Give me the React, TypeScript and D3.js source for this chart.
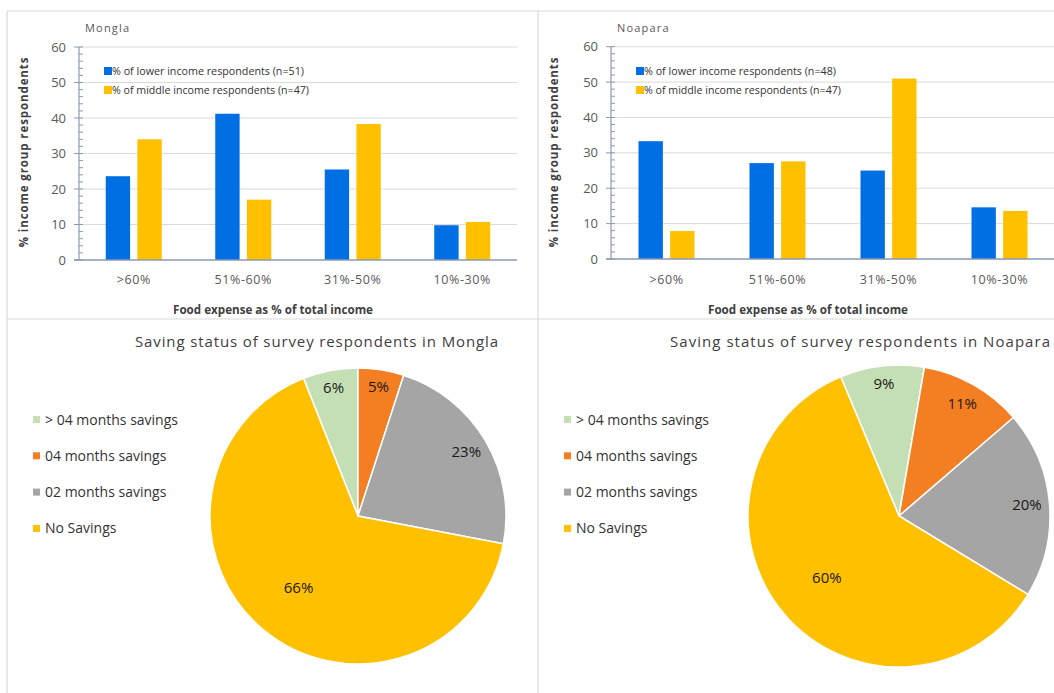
import * as d3 from 'd3';

const categories = ['>60%', '51%-60%', '31%-50%', '10%-30%'];
const monglaLower = [23.6, 41.2, 25.5, 9.8];
const monglaMiddle = [34.0, 17.0, 38.3, 10.7];
const noaparaLower = [33.3, 27.1, 25.0, 14.6];
const noaparaMiddle = [7.9, 27.6, 51.0, 13.6];
const yTicks = [0, 10, 20, 30, 40, 50, 60];
const minorTicks = d3.range(0, 61, 2);

const savingLabels = ['> 04 months savings', '04 months savings', '02 months savings', 'No Savings'];
const savingColors = ['#c5dfb5', '#f47e22', '#a5a5a5', '#ffc000'];
const monglaSavings = [6, 5, 23, 66];
const noaparaSavings = [9, 11, 20, 60];

const BLUE = '#006fe3';
const GOLD = '#ffc000';
const AXIS = '#8a9ab2';
const GRID = '#dadada';
const FONT = '"Open Sans", "Noto Sans", Arial, sans-serif';

type BarProps = {
  title: string;
  lower: number[];
  middle: number[];
  nLower: number;
  nMiddle: number;
  x0: number;
  x1: number;
  yBottom: number;
  yTop: number;
  titleX: number;
  offsetX: number;
};

function BarPanel({ title, lower, middle, nLower, nMiddle, x0, x1, yBottom, yTop, titleX, offsetX }: BarProps) {
  const x = d3.scaleBand<string>().domain(categories).range([x0, x1]);
  const inner = d3.scaleBand<string>().domain(['lower', 'middle']).range([-28, 28]).paddingInner(0.23);
  const y = d3.scaleLinear().domain([0, 60]).range([yBottom, yTop]);
  const cx = (c: string) => (x(c) ?? 0) + x.bandwidth() / 2;
  const mid = (x0 + x1) / 2 - 25;

  return (
    <g>
      <text x={titleX} y={32} fontSize={11} fill="#595959" letterSpacing={1.2} fontFamily={FONT}>{title}</text>
      {yTicks.map(t => (
        <g key={t}>
          {t > 0 && <line x1={x0} x2={x1} y1={y(t)} y2={y(t)} stroke={GRID} strokeWidth={1} />}
          <line x1={x0 - 5} x2={x0 + 4} y1={y(t)} y2={y(t)} stroke={AXIS} strokeWidth={1} />
          <text x={x0 - 13} y={y(t) + 4.5} textAnchor="end" fontSize={13} fill="#595959" fontFamily={FONT}>{t}</text>
        </g>
      ))}
      {minorTicks.filter(t => t % 10 !== 0).map(t => (
        <line key={'m' + t} x1={x0} x2={x0 + 4} y1={y(t)} y2={y(t)} stroke={AXIS} strokeWidth={1} />
      ))}
      {categories.map((c, i) => (
        <g key={c}>
          <rect x={cx(c) + (inner('lower') ?? 0)} y={y(lower[i])} width={inner.bandwidth()} height={yBottom - y(lower[i])} fill={BLUE} />
          <rect x={cx(c) + (inner('middle') ?? 0)} y={y(middle[i])} width={inner.bandwidth()} height={yBottom - y(middle[i])} fill={GOLD} />
          <text x={cx(c)} y={284} textAnchor="middle" fontSize={12.5} fill="#595959" letterSpacing={0.6} fontFamily={FONT}>{c}</text>
        </g>
      ))}
      <line x1={x0} x2={x0} y1={yTop} y2={yBottom} stroke={AXIS} strokeWidth={1.2} />
      <line x1={x0 - 5} x2={x1} y1={yBottom} y2={yBottom} stroke={AXIS} strokeWidth={1.5} />
      <rect x={x0 + 25} y={67} width={8} height={8} fill={BLUE} />
      <text x={x0 + 33} y={75} fontSize={11} fill="#333" textLength={192} lengthAdjust="spacingAndGlyphs" fontFamily={FONT}>{`% of lower income respondents (n=${nLower})`}</text>
      <rect x={x0 + 25} y={86} width={8} height={8} fill={GOLD} />
      <text x={x0 + 33} y={94} fontSize={11} fill="#333" textLength={197} lengthAdjust="spacingAndGlyphs" fontFamily={FONT}>{`% of middle income respondents (n=${nMiddle})`}</text>
      <text transform={`translate(${offsetX + 28},152) rotate(-90)`} textAnchor="middle" fontSize={11.5} fontWeight="bold" fill="#404040" letterSpacing={0.9} fontFamily={FONT}>% income group respondents</text>
      <text x={mid - 100} y={314} fontSize={11.5} fontWeight="bold" fill="#404040" textLength={200} lengthAdjust="spacingAndGlyphs" fontFamily={FONT}>Food expense as % of total income</text>
    </g>
  );
}

type PieProps = {
  title: string;
  values: number[];
  cx: number;
  cy: number;
  r: number;
  start: number;
  titleX0: number;
  titleX1: number;
  legendX: number;
};

function PiePanel({ title, values, cx, cy, r, start, titleX0, titleX1, legendX }: PieProps) {
  const pie = d3.pie<number>().sort(null).startAngle(start).endAngle(start + 2 * Math.PI);
  const arcs = pie(values);
  const arc = d3.arc<d3.PieArcDatum<number>>().innerRadius(0).outerRadius(r);
  const total = d3.sum(values);
  const labelPos = (a: d3.PieArcDatum<number>) => {
    const p = a.data / total;
    const f = p > 0.5 ? 0.63 : p < 0.1 ? 0.88 : 0.85;
    const m = (a.startAngle + a.endAngle) / 2;
    return [Math.sin(m) * r * f, -Math.cos(m) * r * f];
  };

  return (
    <g>
      <text x={titleX0} y={347} fontSize={15} fill="#404040" textLength={titleX1 - titleX0} lengthAdjust="spacing" fontFamily={FONT}>{title}</text>
      {savingLabels.map((l, i) => (
        <g key={l}>
          <rect x={legendX} y={416 + i * 36.3} width={7} height={7} fill={savingColors[i]} />
          <text x={legendX + 12} y={424.5 + i * 36.3} fontSize={14} fill="#333" fontFamily={FONT}>{l}</text>
        </g>
      ))}
      <g transform={`translate(${cx},${cy})`}>
        {arcs.map((a, i) => (
          <path key={i} d={arc(a) ?? ''} fill={savingColors[i]} stroke="#fff" strokeWidth={1.5} />
        ))}
        {arcs.map((a, i) => {
          const [lx, ly] = labelPos(a);
          return (
            <text key={'t' + i} x={lx} y={ly + 5} textAnchor="middle" fontSize={15} fill="#1a1a1a" fontFamily={FONT}>{`${values[i]}%`}</text>
          );
        })}
      </g>
    </g>
  );
}

export default function App() {
  return (
    <svg width={1054} height={693} style={{ position: 'absolute', left: 0, top: 0, background: '#fff' }}>
      <rect width={1054} height={693} fill="#fff" />
      <BarPanel title="Mongla" lower={monglaLower} middle={monglaMiddle} nLower={51} nMiddle={47}
        x0={79} x1={517} yBottom={260} yTop={47} titleX={85} offsetX={0} />
      <BarPanel title="Noapara" lower={noaparaLower} middle={noaparaMiddle} nLower={48} nMiddle={47}
        x0={611} x1={1055} yBottom={259} yTop={46.7} titleX={617} offsetX={530} />
      <PiePanel title="Saving status of survey respondents in Mongla" values={monglaSavings}
        cx={358} cy={516} r={148} start={-0.06 * 2 * Math.PI} titleX0={135} titleX1={498} legendX={33} />
      <PiePanel title="Saving status of survey respondents in Noapara" values={noaparaSavings}
        cx={899} cy={516} r={151} start={-22.7 * Math.PI / 180} titleX0={670} titleX1={1050} legendX={564} />
      <g stroke="#d9d9d9" strokeWidth={1.2}>
        <line x1={7} x2={1054} y1={11} y2={11} />
        <line x1={7} x2={7} y1={11} y2={693} />
        <line x1={538} x2={538} y1={11} y2={693} />
        <line x1={7} x2={1054} y1={319} y2={319} />
      </g>
    </svg>
  );
}
